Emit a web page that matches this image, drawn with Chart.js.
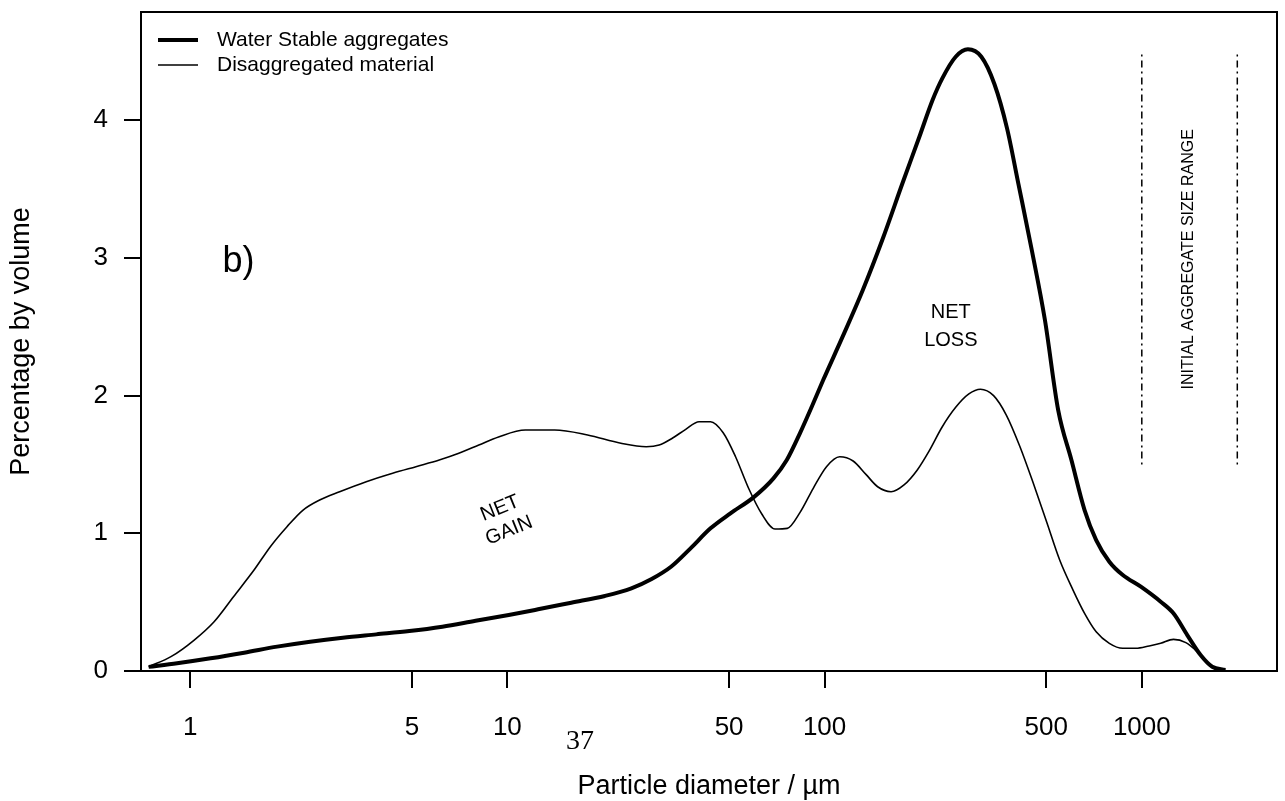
<!DOCTYPE html>
<html>
<head>
<meta charset="utf-8">
<script src="https://cdn.jsdelivr.net/npm/chart.js"></script>
<style>
  html, body { margin: 0; padding: 0; background: #fff; }
  #wrap { width: 1285px; height: 801px; }
</style>
</head>
<body>
<div id="wrap"><canvas id="myChart" width="1285" height="801"></canvas></div>
<script>
// particle size distributions
const wsaDiam = [0.74, 0.91, 1.16, 1.48, 1.88, 2.39, 3.03, 3.86, 4.91, 6.24,
  7.94, 10.1, 12.5, 15.9, 20.3, 24.6, 28.4, 32.8, 37.8, 43.7,
  50.5, 59.7, 69, 76, 83.6, 92.1, 99, 114, 132, 152,
  176, 199, 219, 235, 259, 283, 312, 343, 376, 408,
  450, 495, 545, 600, 660, 718, 790, 871, 993, 1147,
  1258, 1391, 1532, 1667, 1834];
const wsaPct = [0.03, 0.056, 0.092, 0.133, 0.177, 0.213, 0.242, 0.266, 0.29, 0.322,
  0.365, 0.407, 0.448, 0.496, 0.545, 0.60, 0.666, 0.757, 0.891, 1.036,
  1.145, 1.261, 1.399, 1.532, 1.726, 1.944, 2.113, 2.428, 2.767, 3.13,
  3.542, 3.88, 4.147, 4.304, 4.461, 4.515, 4.461, 4.263, 3.941, 3.542,
  3.057, 2.549, 1.895, 1.532, 1.169, 0.951, 0.794, 0.697, 0.612, 0.503,
  0.419, 0.261, 0.116, 0.031, 0.007];

const disDiam = [0.74, 0.87, 1.03, 1.19, 1.37, 1.59, 1.79, 2.02, 2.27, 2.56,
  2.96, 3.59, 4.35, 5.15, 6.1, 7.03, 8.13, 9.38, 11.4, 14.1,
  17.9, 22.8, 27.4, 30.1, 33.1, 36.5, 40.2, 43.7, 47.9, 52.4,
  57.6, 63.4, 69.8, 76.3, 83.6, 92.1, 101.4, 111.6, 123, 135,
  147, 162, 178, 196, 213, 235, 259, 285, 310, 341,
  374, 413, 455, 501, 551, 607, 660, 718, 790, 871,
  958, 1055, 1147, 1258, 1377, 1515, 1667, 1834];
const disPct = [0.031, 0.104, 0.225, 0.358, 0.54, 0.733, 0.903, 1.048, 1.169, 1.242,
  1.302, 1.375, 1.436, 1.484, 1.532, 1.581, 1.641, 1.70, 1.75, 1.75,
  1.714, 1.654, 1.629, 1.641, 1.69, 1.755, 1.81, 1.81, 1.73, 1.556,
  1.327, 1.14, 1.031, 1.036, 1.15, 1.327, 1.484, 1.556, 1.525, 1.428,
  1.338, 1.302, 1.351, 1.46, 1.593, 1.774, 1.915, 2.012, 2.046, 2.0,
  1.859, 1.629, 1.363, 1.084, 0.806, 0.588, 0.419, 0.285, 0.201, 0.165,
  0.165, 0.182, 0.201, 0.23, 0.206, 0.128, 0.031, 0.007];

// initial aggregate size range (µm) and the height of the marker lines
const rangeDiam = [1000, 2000];
const rangeLow = 1.5, rangeHigh = 4.5;

const xTicks = [1, 5, 10, 50, 100, 500, 1000];
const yTicks = [0, 1, 2, 3, 4];

const FONT = 'Liberation Sans, Arial, sans-serif';

function pts(xs, ys) { return xs.map((d, i) => ({ x: d, y: ys[i] })); }

const rangeSets = rangeDiam.map(d => ({
  label: 'range',
  data: [{ x: d, y: rangeLow }, { x: d, y: rangeHigh }],
  borderColor: '#000',
  borderWidth: 1.5,
  borderDash: [2, 4, 7, 4],
  pointRadius: 0
}));

// box, legend and the text notes
const notes = {
  id: 'notes',
  afterDraw(chart) {
    const { ctx, chartArea: a, scales: { x, y } } = chart;
    ctx.save();
    ctx.strokeStyle = '#000';
    ctx.lineWidth = 2;
    ctx.strokeRect(a.left, a.top, a.right - a.left, a.bottom - a.top);

    ctx.fillStyle = '#000';
    ctx.textBaseline = 'middle';

    // legend
    ctx.font = '21px ' + FONT;
    ctx.textAlign = 'left';
    [0, 1].forEach(i => {
      const ds = chart.data.datasets[i];
      const ly = a.top + 28 + i * 25;
      ctx.lineWidth = ds.borderWidth;
      ctx.beginPath();
      ctx.moveTo(a.left + 17, ly);
      ctx.lineTo(a.left + 57, ly);
      ctx.stroke();
      ctx.fillText(ds.label, a.left + 76, ly);
    });

    // b)
    ctx.font = '36px ' + FONT;
    ctx.textAlign = 'center';
    ctx.fillText('b)', x.getPixelForValue(1.42), y.getPixelForValue(2.97));

    // NET LOSS
    ctx.font = '20px ' + FONT;
    const lx = x.getPixelForValue(250);
    ctx.fillText('NET', lx, y.getPixelForValue(2.607));
    ctx.fillText('LOSS', lx, y.getPixelForValue(2.404));

    // NET GAIN (tilted)
    ctx.save();
    ctx.translate(x.getPixelForValue(9.8), y.getPixelForValue(1.1));
    ctx.rotate(-22 * Math.PI / 180);
    ctx.fillText('NET', 0, -12);
    ctx.fillText('GAIN', 0, 12);
    ctx.restore();

    // range label
    ctx.save();
    ctx.font = '16px ' + FONT;
    ctx.translate(x.getPixelForValue(1404), y.getPixelForValue(2.99));
    ctx.rotate(-Math.PI / 2);
    ctx.fillText('INITIAL AGGREGATE SIZE RANGE', 0, 0);
    ctx.restore();

    // axis titles
    ctx.font = '27px ' + FONT;
    ctx.fillText('Particle diameter / \u00b5m', (a.left + a.right) / 2, 787);
    ctx.save();
    ctx.translate(22, (a.top + a.bottom) / 2);
    ctx.rotate(-Math.PI / 2);
    ctx.fillText('Percentage by volume', 0, 0);
    ctx.restore();

    // stray page number from the source
    ctx.font = '28px Liberation Serif, serif';
    ctx.fillText('37', 580, 742);
    ctx.restore();
  }
};

new Chart(document.getElementById('myChart'), {
  type: 'line',
  data: {
    datasets: [
      {
        label: 'Water Stable aggregates',
        data: pts(wsaDiam, wsaPct),
        borderColor: '#000',
        borderWidth: 4,
        pointRadius: 0,
        cubicInterpolationMode: 'monotone'
      },
      {
        label: 'Disaggregated material',
        data: pts(disDiam, disPct),
        borderColor: '#000',
        borderWidth: 1.6,
        pointRadius: 0,
        cubicInterpolationMode: 'monotone'
      },
      ...rangeSets
    ]
  },
  options: {
    responsive: false,
    animation: false,
    devicePixelRatio: 1,
    layout: { padding: { top: 12, right: 8, left: 0, bottom: 0 } },
    plugins: { legend: { display: false }, tooltip: { enabled: false } },
    scales: {
      x: {
        type: 'logarithmic',
        min: 0.74,
        max: 2668,
        afterBuildTicks: s => { s.ticks = xTicks.map(v => ({ value: v })); },
        afterFit: s => { s.height = 130; s.paddingLeft = 0; s.paddingRight = 0; },
        border: { display: false },
        grid: { drawOnChartArea: false, drawTicks: true, tickLength: 17, color: '#000', lineWidth: 2 },
        ticks: {
          color: '#000',
          font: { family: FONT, size: 26 },
          padding: 24,
          maxRotation: 0,
          autoSkip: false,
          callback: v => String(v)
        }
      },
      y: {
        min: 0,
        max: 4.786,
        afterBuildTicks: s => { s.ticks = yTicks.map(v => ({ value: v })); },
        afterFit: s => { s.width = 141; s.paddingTop = 0; s.paddingBottom = 0; },
        border: { display: false },
        grid: { drawOnChartArea: false, drawTicks: true, tickLength: 17, color: '#000', lineWidth: 2 },
        ticks: {
          color: '#000',
          font: { family: FONT, size: 26 },
          padding: 16,
          callback: v => String(v)
        }
      }
    }
  },
  plugins: [notes]
});
</script>
</body>
</html>
